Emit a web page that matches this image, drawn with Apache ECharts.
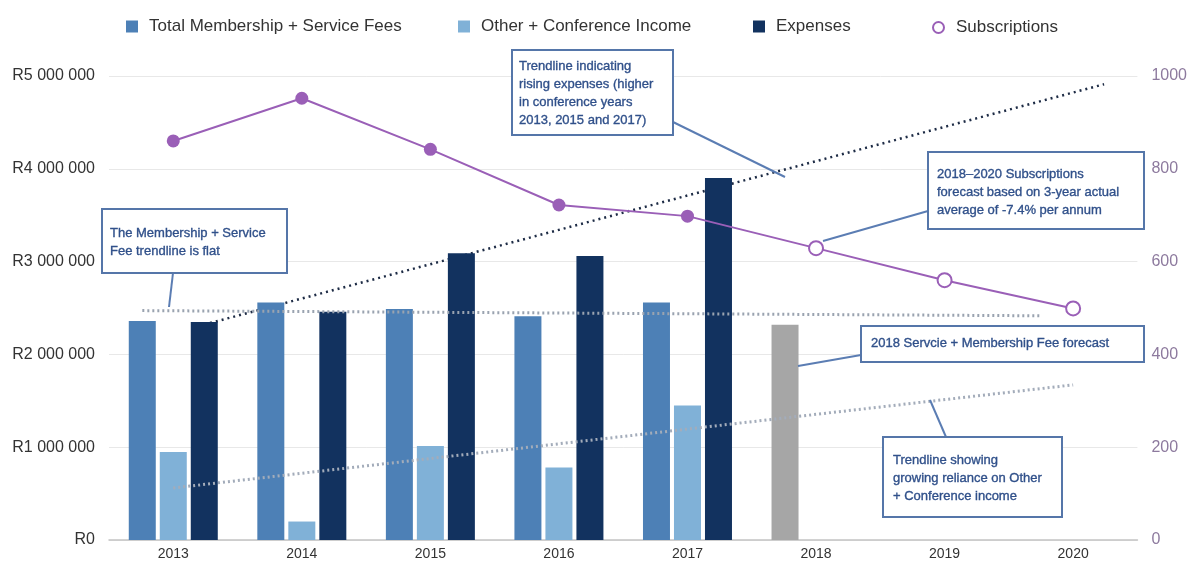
<!DOCTYPE html>
<html><head><meta charset="utf-8">
<script src="https://cdn.jsdelivr.net/npm/echarts@6/dist/echarts.min.js"></script>
<style>html,body{margin:0;padding:0;background:#fff}#c{width:1190px;height:562px}</style>
</head><body><div id="c"></div>
<script>
// ---------- DATA ----------
const years = ['2013', '2014', '2015', '2016', '2017', '2018', '2019', '2020'];
const membershipFees = [2360000, 2560000, 2490000, 2410000, 2560000];
const membershipForecast2018 = 2320000;
const otherIncome = [947000, 199000, 1014000, 780000, 1450000];
const expenses = [2350000, 2460000, 3090000, 3060000, 3900000];
const subscriptionsActual = [860, 952, 842, 722, 698];
const subscriptionsForecast = [629, 560, 499];
const leftAxisMax = 5000000, leftAxisInterval = 1000000;
const rightAxisMax = 1000, rightAxisInterval = 200;

// ---------- LAYOUT / STYLE ----------
const GRID = { left: 109, right: 51, top: 76, bottom: 22 };
const BAR_W = 27, BAR_GAP_PX = 4;
const CAT_W = (1190 - GRID.left - GRID.right) / years.length;
const OFF = (BAR_W + BAR_GAP_PX) / CAT_W;
const C_MEM = '#4d80b6', C_OTH = '#80b1d7', C_EXP = '#12325f', C_GRAY = '#a6a6a6', C_SUB = '#9a5fb7';

function hasFont(name) {
  const c = document.createElement('canvas').getContext('2d');
  const t = 'abcdefghijklmnopqrstuvwxyz 2013 ABCDEFG';
  c.font = '20px monospace'; const w0 = c.measureText(t).width;
  c.font = '20px "' + name + '", monospace';
  return Math.abs(c.measureText(t).width - w0) > 0.5;
}
const ANN_FONT = hasFont('Liberation Sans Narrow') ? '15.5px "Liberation Sans Narrow"' : '13px "Liberation Sans"';
const ANN_COLOR = '#30508a';

function fit(vals) {
  const n = vals.length; let sx = 0, sy = 0, sxy = 0, sxx = 0;
  vals.forEach((v, i) => { sx += i; sy += v; sxy += i * v; sxx += i * i; });
  const b = (n * sxy - sx * sy) / (n * sxx - sx * sx);
  const a = (sy - b * sx) / n;
  return x => a + b * x;
}
function trend(vals, offset) {
  const f = fit(vals);
  const x0 = offset, x1 = years.length - 1 + offset;
  return [[x0, f(x0)], [x1, f(x1)]];
}

const pad = (arr) => arr.concat(new Array(years.length - arr.length).fill('-'));
const memData = membershipFees.map(v => v)
  .concat([{ value: membershipForecast2018, itemStyle: { color: C_GRAY } }]);
const subData = subscriptionsActual.map(v => v).concat(subscriptionsForecast.map(v => ({
  value: v, symbolSize: 14, itemStyle: { color: '#fff', borderColor: C_SUB, borderWidth: 2 }
})));

function fmtR(v) { return 'R' + String(v).replace(/\B(?=(\d{3})+(?!\d))/g, ' '); }

const legendText = (padLeft) => ({ fontSize: 17, color: '#333', fontFamily: 'Liberation Sans', padding: [0, 0, 0, padLeft] });
const legendBase = { top: 13, itemWidth: 12, itemHeight: 12, icon: 'rect', textStyle: legendText(6) };

function box(x, y, w, h, text, tx, ty) {
  return [
    { type: 'rect', z: 100, shape: { x, y, width: w, height: h },
      style: { fill: '#fff', stroke: '#5576a9', lineWidth: 2 } },
    { type: 'text', z: 101, style: { text, x: tx, y: ty, font: ANN_FONT, fill: ANN_COLOR,
      stroke: ANN_COLOR, lineWidth: 0.35, lineHeight: 18, verticalAlign: 'top' } }
  ];
}
function leader(x1, y1, x2, y2) {
  return { type: 'line', z: 99, shape: { x1, y1, x2, y2 }, style: { stroke: '#5b7db3', lineWidth: 2 } };
}

const option = {
  animation: false,
  backgroundColor: '#fff',
  grid: GRID,
  legend: [
    Object.assign({}, legendBase, { left: 121, data: ['Total Membership + Service Fees'] }),
    Object.assign({}, legendBase, { left: 453, data: ['Other + Conference Income'] }),
    Object.assign({}, legendBase, { left: 748, data: ['Expenses'] }),
    Object.assign({}, legendBase, { left: 927, top: 14, itemWidth: 11, itemHeight: 11,
      data: [{ name: 'Subscriptions', icon: 'emptyCircle' }], textStyle: legendText(7) })
  ],
  xAxis: [
    { type: 'category', data: years, boundaryGap: true,
      axisLine: { lineStyle: { color: '#c4c4c4', width: 1.5 } }, axisTick: { show: false },
      axisLabel: { color: '#333', fontSize: 14, fontFamily: 'Liberation Sans', margin: 7 } },
    { type: 'value', min: -0.5, max: years.length - 0.5, show: false }
  ],
  yAxis: [
    { type: 'value', min: 0, max: leftAxisMax, interval: leftAxisInterval,
      axisLine: { show: false }, axisTick: { show: false },
      splitLine: { lineStyle: { color: '#e8e8e8', width: 1 } },
      axisLabel: { formatter: fmtR, color: '#333', fontSize: 16, fontFamily: 'Liberation Sans', margin: 14 } },
    { type: 'value', min: 0, max: rightAxisMax, interval: rightAxisInterval,
      axisLine: { show: false }, axisTick: { show: false }, splitLine: { show: false },
      axisLabel: { formatter: v => String(v), color: '#8d7a9e', fontSize: 16, fontFamily: 'Liberation Sans', margin: 14 } }
  ],
  series: [
    { name: 'Total Membership + Service Fees', type: 'bar', barWidth: BAR_W, barGap: (BAR_GAP_PX / BAR_W * 100) + '%',
      itemStyle: { color: C_MEM }, data: pad(memData), z: 2 },
    { name: 'Other + Conference Income', type: 'bar', barWidth: BAR_W,
      itemStyle: { color: C_OTH }, data: pad(otherIncome), z: 2 },
    { name: 'Expenses', type: 'bar', barWidth: BAR_W,
      itemStyle: { color: C_EXP }, data: pad(expenses), z: 2 },
    { name: 'Subscriptions', type: 'line', yAxisIndex: 1, color: C_SUB, symbol: 'circle', symbolSize: 13,
      lineStyle: { width: 2, color: C_SUB }, itemStyle: { color: C_SUB }, data: subData, z: 6 },
    { name: 'trend-exp', type: 'line', xAxisIndex: 1, yAxisIndex: 0, symbol: 'none', silent: true, z: 1,
      lineStyle: { color: '#1d2b45', width: 2.5, type: [2, 4] }, data: trend(expenses, OFF) },
    { name: 'trend-mem', type: 'line', xAxisIndex: 1, yAxisIndex: 0, symbol: 'none', silent: true, z: 4,
      lineStyle: { color: '#9aa3b0', width: 3, type: [2, 3] },
      data: trend(membershipFees.concat([membershipForecast2018]), -OFF) },
    { name: 'trend-oth', type: 'line', xAxisIndex: 1, yAxisIndex: 0, symbol: 'none', silent: true, z: 4,
      lineStyle: { color: '#a3acba', width: 3, type: [2, 3] }, data: trend(otherIncome, 0) }
  ],
  graphic: [].concat(
    box(512, 50, 161, 85, 'Trendline indicating\nrising expenses (higher\nin conference years\n2013, 2015 and 2017)', 519, 57),
    [leader(673, 122, 785, 177)],
    box(102, 209, 185, 64, 'The Membership + Service\nFee trendline is flat', 110, 224),
    [leader(173, 273, 169, 307)],
    box(928, 152, 216, 77, '2018–2020 Subscriptions\nforecast based on 3-year actual\naverage of -7.4% per annum', 937, 165),
    [leader(928, 211, 823, 241)],
    box(861, 326, 283, 36, '2018 Servcie + Membership Fee forecast', 871, 334),
    [leader(861, 355, 798, 366)],
    box(883, 437, 179, 80, 'Trendline showing\ngrowing reliance on Other\n+ Conference income', 893, 451),
    [leader(946, 437, 930, 400)]
  )
};

const chart = echarts.init(document.getElementById('c'), null, { renderer: 'canvas' });
chart.setOption(option);
</script>
</body></html>
